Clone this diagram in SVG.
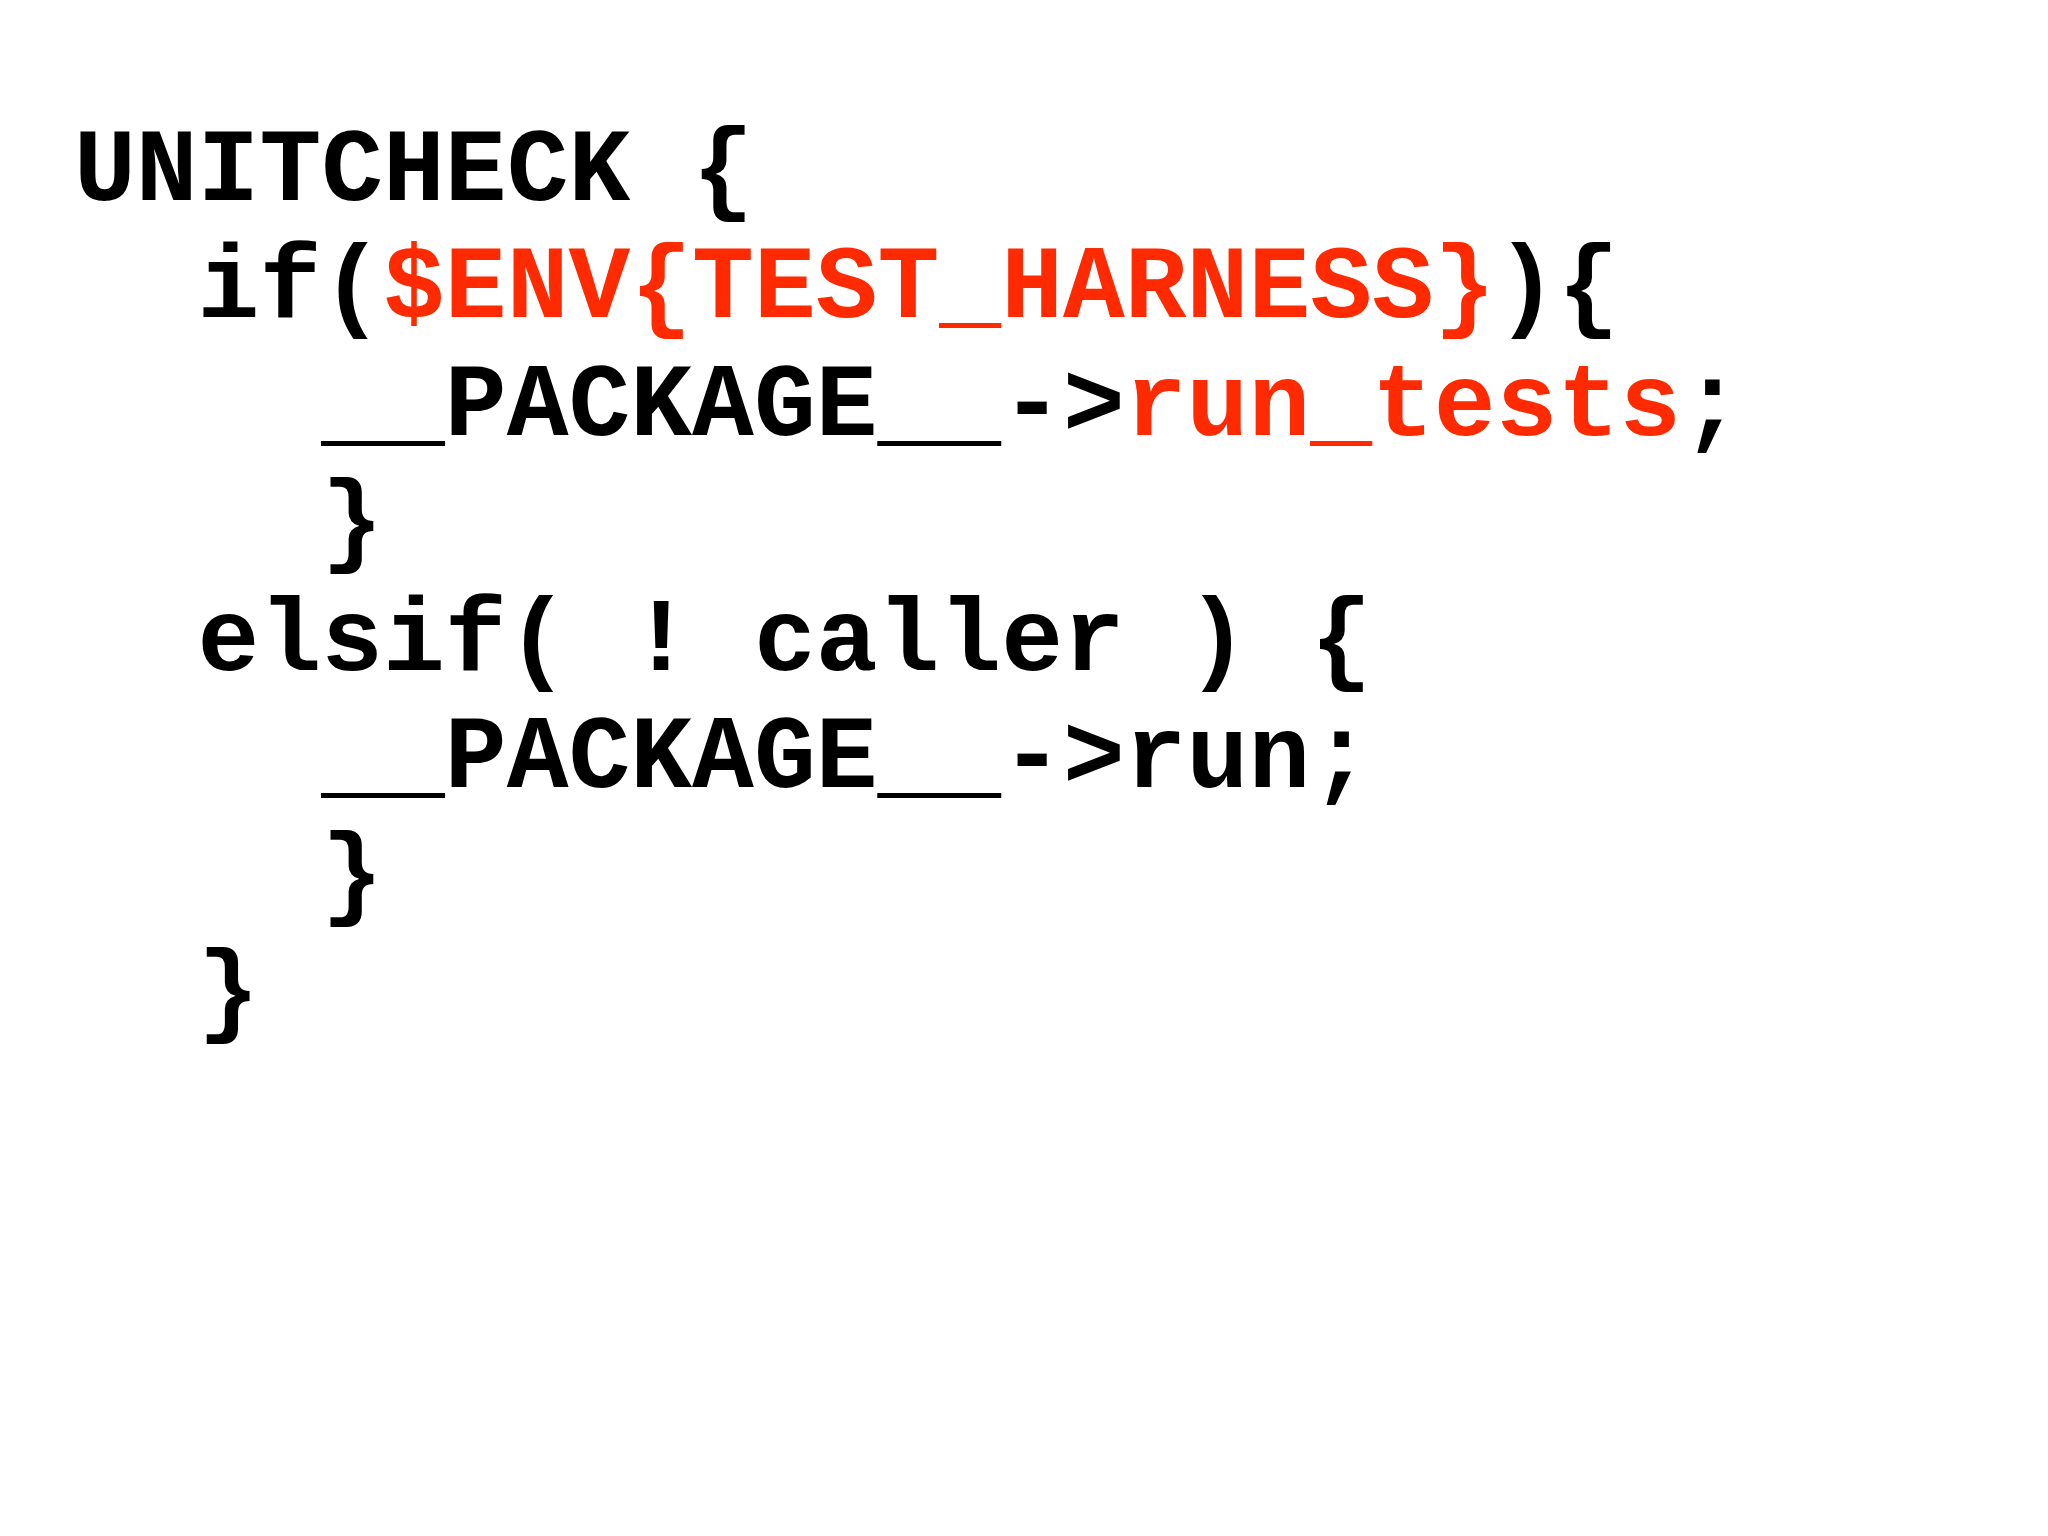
<svg xmlns="http://www.w3.org/2000/svg" width="2048" height="1536" viewBox="0 0 2048 1536">
<style>
text{font-family:"Liberation Mono","DejaVu Sans Mono",monospace;font-weight:bold;font-size:103px;fill:#000;white-space:pre}
.r{fill:#ff2a00}
</style>
<rect width="2048" height="1536" fill="#fff"/>
<g id="code">
<text x="74" y="200" xml:space="preserve">UNITCHECK {</text>
<text x="74" y="317" xml:space="preserve">  if(<tspan class="r">$ENV{TEST_HARNESS}</tspan>){</text>
<text x="74" y="435" xml:space="preserve">    __PACKAGE__-&gt;<tspan class="r">run_tests</tspan>;</text>
<text x="74" y="552" xml:space="preserve">    }</text>
<text x="74" y="670" xml:space="preserve">  elsif( ! caller ) {</text>
<text x="74" y="787" xml:space="preserve">    __PACKAGE__-&gt;run;</text>
<text x="74" y="905" xml:space="preserve">    }</text>
<text x="74" y="1022" xml:space="preserve">  }</text>
</g>
</svg>
